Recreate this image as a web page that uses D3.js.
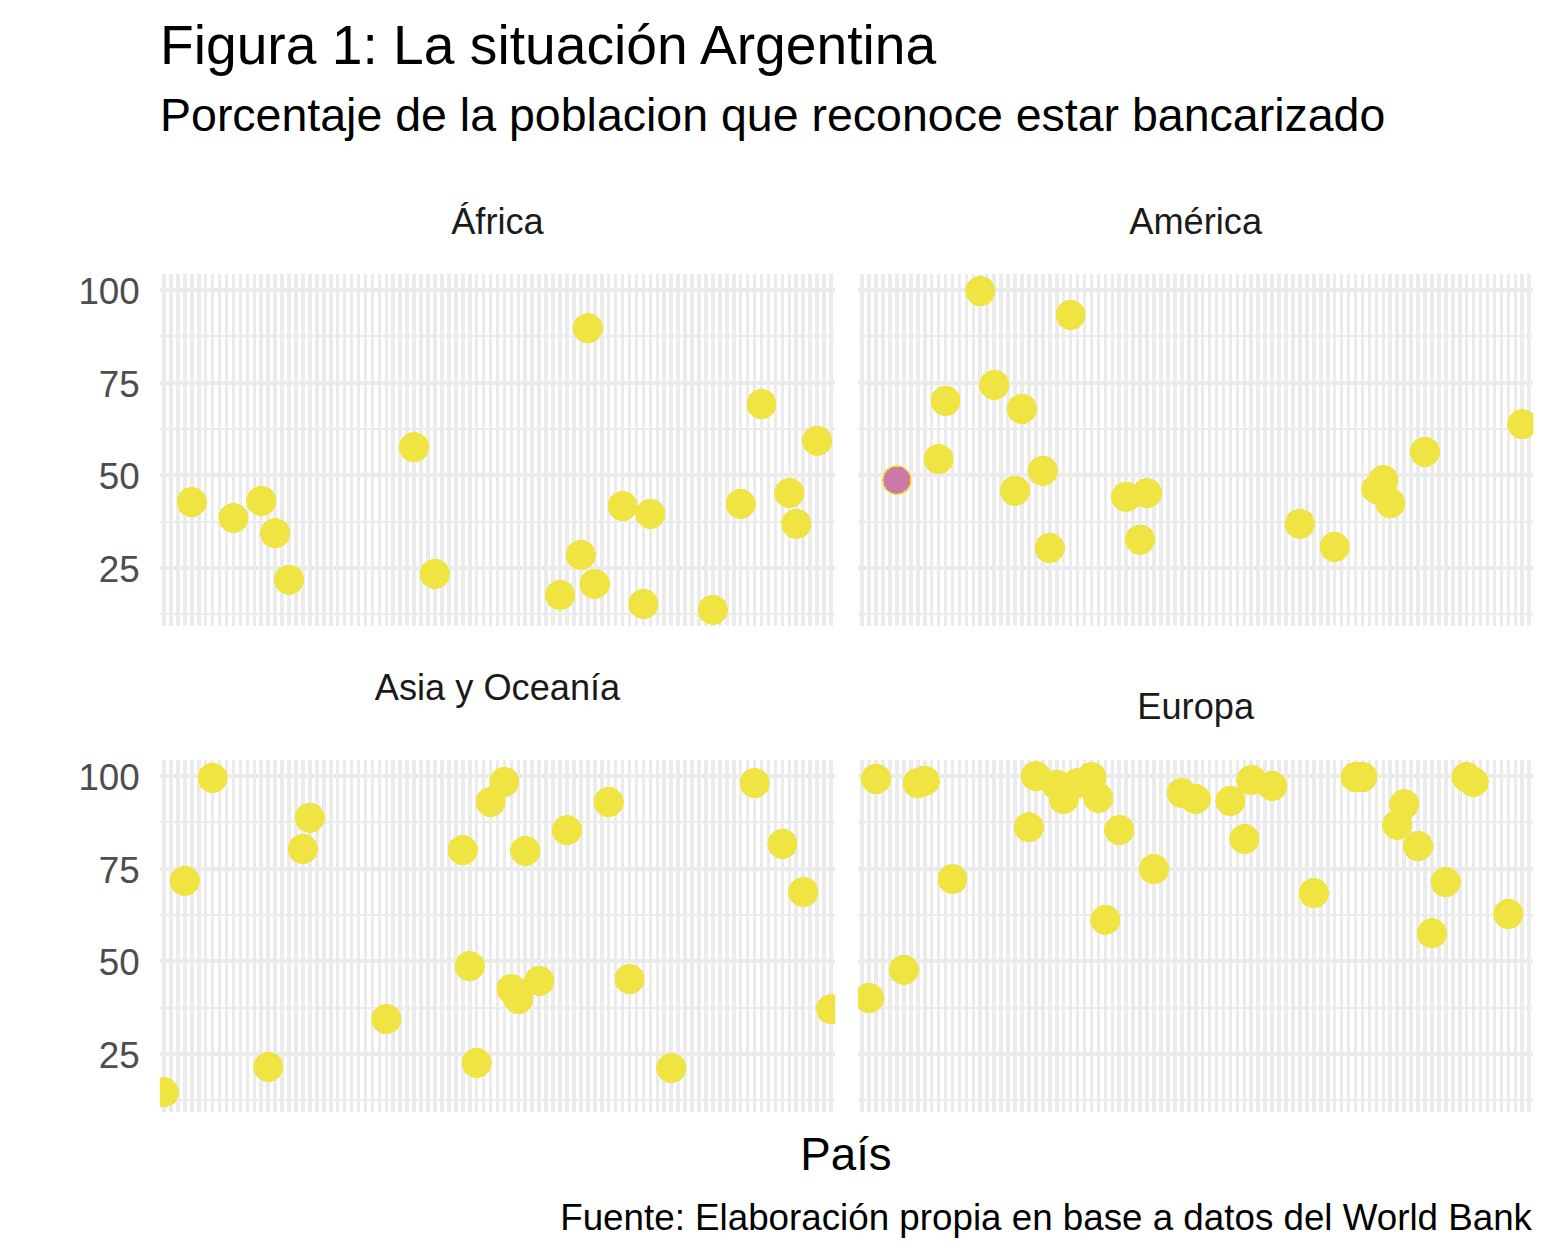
<!DOCTYPE html>
<html>
<head>
<meta charset="utf-8">
<script src="https://cdn.jsdelivr.net/npm/d3@7"></script>
<style>
  html, body { margin: 0; padding: 0; background: #fff; }
  svg { display: block; font-family: "Liberation Sans", Arial, sans-serif; }
  .grid line { stroke: #ebebeb; shape-rendering: crispEdges; }
  .punto { fill: #f0e442; shape-rendering: crispEdges; }
  .argentina { fill: #cc79a7; shape-rendering: crispEdges; }
  .tira { font-size: 36.2px; fill: #1a1a1a; text-anchor: middle; }
  .eje text { font-size: 36.8px; fill: #4d4d4d; }
</style>
</head>
<body>
<div id="chart"></div>
<script>
// percent of people with a bank account, paises are ranks on the shared x axis
var africaPais = [4, 10, 14, 16, 18, 36, 39, 57, 60, 61, 62, 66, 69, 70, 79, 83, 86, 90, 91, 94];
var africaValor = [42.8, 38.5, 43.1, 34.4, 21.8, 57.6, 23.4, 17.7, 28.5, 89.7, 20.7, 41.7, 15.3, 39.6, 13.7, 42.3, 69.2, 45.2, 36.9, 59.3];

var americaPais = [5, 11, 12, 17, 19, 22, 23, 26, 27, 30, 38, 40, 41, 63, 68, 74, 75, 76, 81, 95];
var americaValor = [48.7, 54.4, 70.1, 99.7, 74.4, 45.8, 67.9, 51.2, 30.4, 93.3, 44.2, 32.6, 45.2, 36.9, 30.7, 46.3, 48.7, 42.5, 56.3, 63.8];

var asiaPais = [0, 3, 7, 15, 20, 21, 32, 43, 44, 45, 47, 49, 50, 51, 52, 54, 58, 64, 67, 73, 85, 89, 92, 96];
var asiaValor = [14.7, 71.7, 99.5, 21.5, 80.3, 88.7, 34.4, 80.0, 48.7, 22.6, 93.0, 98.4, 42.5, 39.8, 79.8, 44.7, 85.4, 93.0, 45.2, 21.2, 98.1, 81.7, 68.7, 37.1];

var europaPais = [1, 2, 6, 8, 9, 13, 24, 25, 28, 29, 31, 33, 34, 35, 37, 42, 46, 48, 53, 55, 56, 59, 65, 71, 72, 77, 78, 80, 82, 84, 87, 88, 93];
var europaValor = [40.1, 99.2, 47.7, 98.1, 98.7, 72.2, 86.2, 100, 97.6, 93.8, 98.1, 99.7, 94.1, 61.2, 85.4, 74.9, 95.4, 93.8, 93.3, 83.0, 98.9, 97.3, 68.4, 99.7, 99.7, 86.8, 92.4, 81.1, 57.6, 71.4, 99.7, 98.4, 62.8];

var argentinaPais = 5;
var argentinaValor = 48.7;

var totalPaises = 97;
var yTicks = [25, 50, 75, 100];
var yMinor = [12.5, 37.5, 62.5, 87.5];

var width = 1556, height = 1259;
var panelW = 675.4, panelH = 352;

var x = d3.scalePoint()
  .domain(d3.range(totalPaises))
  .range([0, panelW])
  .padding(0.6);

var y = d3.scaleLinear()
  .domain([9.35, 104.32])
  .range([panelH, 0]);

var svg = d3.select('#chart').append('svg')
  .attr('width', width)
  .attr('height', height);

svg.append('text').attr('x', 160).attr('y', 64)
  .style('font-size', '55.2px').style('fill', '#000')
  .text('Figura 1: La situación Argentina');

svg.append('text').attr('x', 160).attr('y', 131)
  .style('font-size', '46.5px').style('fill', '#000')
  .text('Porcentaje de la poblacion que reconoce estar bancarizado');

var panels = [
  { id: 'africa', name: 'África', pais: africaPais, valor: africaValor, left: 159.8, top: 274, labelY: 234, axis: true },
  { id: 'america', name: 'América', pais: americaPais, valor: americaValor, left: 858, top: 274, labelY: 234, axis: false, destacado: true },
  { id: 'asia', name: 'Asia y Oceanía', pais: asiaPais, valor: asiaValor, left: 159.8, top: 760, labelY: 700, axis: true },
  { id: 'europa', name: 'Europa', pais: europaPais, valor: europaValor, left: 858, top: 760, labelY: 719, axis: false }
];

panels.forEach(function(p) {
  var g = svg.append('g')
    .attr('transform', 'translate(' + p.left + ',' + p.top + ')');

  svg.append('clipPath').attr('id', 'clip-' + p.id)
    .append('rect')
    .attr('width', panelW)
    .attr('height', panelH);

  var grid = g.append('g').attr('class', 'grid');

  grid.selectAll('.minor').data(yMinor).enter().append('line')
    .attr('class', 'minor')
    .attr('x2', panelW)
    .attr('y1', y).attr('y2', y)
    .attr('stroke-width', 2);

  grid.selectAll('.major').data(yTicks).enter().append('line')
    .attr('class', 'major')
    .attr('x2', panelW)
    .attr('y1', y).attr('y2', y)
    .attr('stroke-width', 4);

  grid.selectAll('.vert').data(x.domain()).enter().append('line')
    .attr('class', 'vert')
    .attr('x1', x).attr('x2', x)
    .attr('y2', panelH)
    .attr('stroke-width', 3.6);

  var puntos = g.append('g').attr('clip-path', 'url(#clip-' + p.id + ')');

  puntos.selectAll('.punto').data(p.pais).enter().append('circle')
    .attr('class', 'punto')
    .attr('cx', function(d) { return x(d); })
    .attr('cy', function(d, i) { return y(p.valor[i]); })
    .attr('r', 15);

  if (p.destacado) {
    puntos.append('circle')
      .attr('class', 'argentina')
      .attr('cx', x(argentinaPais))
      .attr('cy', y(argentinaValor))
      .attr('r', 13.5);
  }

  svg.append('text')
    .attr('class', 'tira')
    .attr('x', p.left + panelW / 2)
    .attr('y', p.labelY)
    .text(p.name);

  if (p.axis) {
    var axis = g.append('g')
      .attr('class', 'eje')
      .call(d3.axisLeft(y).tickValues(yTicks).tickSize(0).tickPadding(20));
    axis.select('.domain').remove();
    axis.selectAll('text').attr('dy', '0.37em');
  }
});

svg.append('text').attr('x', 846).attr('y', 1170)
  .attr('text-anchor', 'middle')
  .style('font-size', '45.7px').style('fill', '#000')
  .text('País');

svg.append('text').attr('x', 1532).attr('y', 1230)
  .attr('text-anchor', 'end')
  .style('font-size', '36.75px').style('fill', '#000')
  .text('Fuente: Elaboración propia en base a datos del World Bank');
</script>
</body>
</html>
